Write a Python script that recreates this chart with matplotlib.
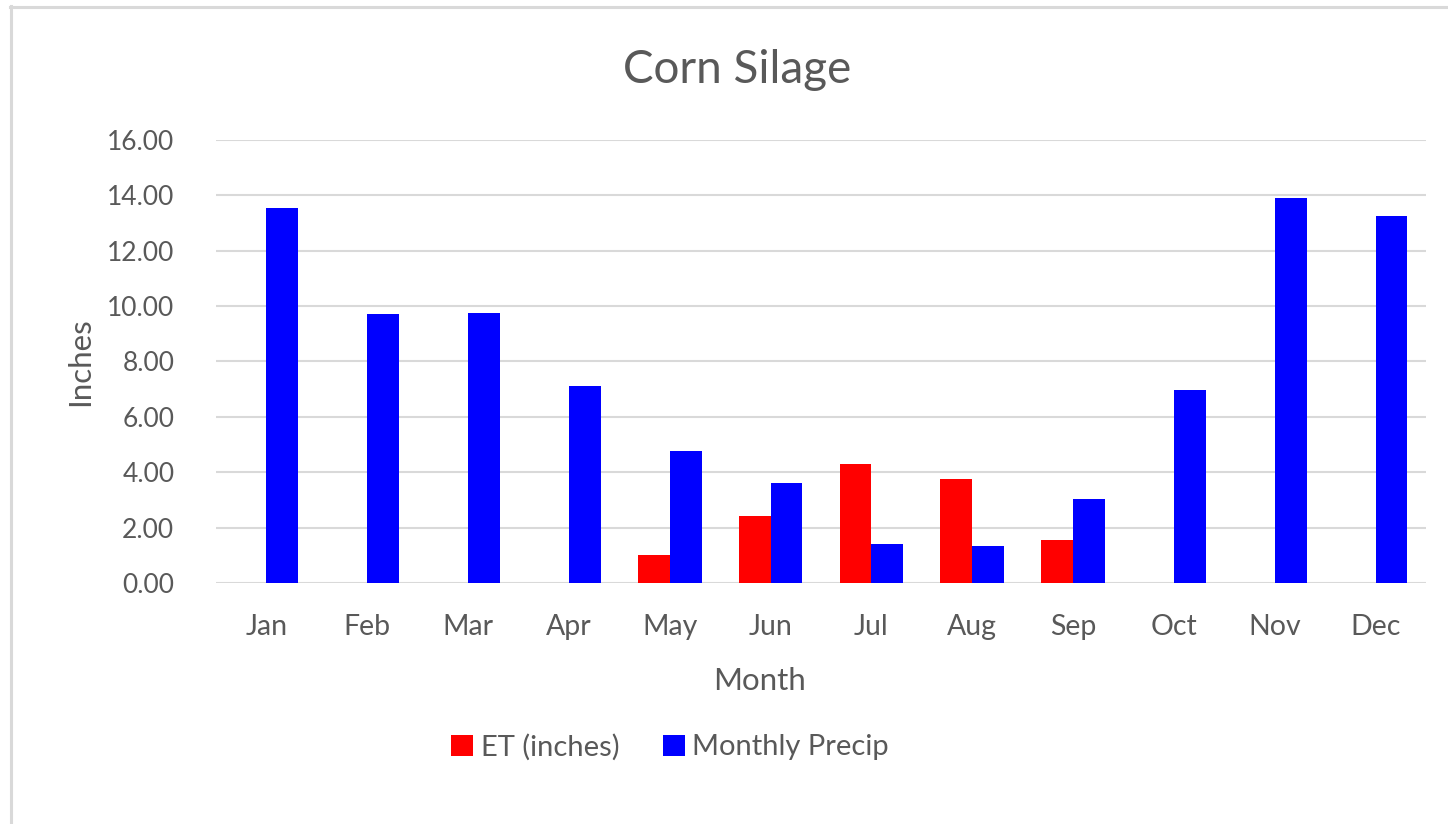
import matplotlib
matplotlib.use("Agg")
import matplotlib.pyplot as plt
from matplotlib.lines import Line2D
import numpy as np

months = ["Jan", "Feb", "Mar", "Apr", "May", "Jun", "Jul", "Aug", "Sep", "Oct", "Nov", "Dec"]
et_inches = [0, 0, 0, 0, 1.02, 2.41, 4.30, 3.74, 1.54, 0, 0, 0]
monthly_precip = [13.53, 9.73, 9.76, 7.11, 4.75, 3.61, 1.42, 1.34, 3.02, 6.96, 13.89, 13.25]
yticks = [0, 2, 4, 6, 8, 10, 12, 14, 16]

W, H = 1448, 824
plt.rcParams['font.family'] = ['Lato', 'DejaVu Sans']
txt = '#595959'
grid = '#d9d9d9'

fig = plt.figure(figsize=(W / 100, H / 100), dpi=100)
ax = fig.add_axes([216 / W, 1 - 583 / H, (1426 - 216) / W, (583 - 140) / H])

x = np.arange(len(months))
w = 0.315
ax.bar(x - w / 2, et_inches, width=w, color='#FF0000', linewidth=0, label='ET (inches)', zorder=3)
ax.bar(x + w / 2, monthly_precip, width=w, color='#0000FF', linewidth=0, label='Monthly Precip', zorder=3)

ax.set_xlim(-0.5, len(months) - 0.5)
ax.set_ylim(0, 16)
ax.set_yticks(yticks)
ax.set_yticklabels([f"{v:.2f}" for v in yticks], fontsize=19, color=txt)
ax.set_xticks(x)
ax.set_xticklabels(months, fontsize=20.5, color=txt)
ax.tick_params(axis='both', length=0)
ax.tick_params(axis='y', pad=30)
ax.tick_params(axis='x', pad=22)
for s in ax.spines.values():
    s.set_visible(False)
ax.yaxis.grid(True, color=grid, linewidth=1.5, zorder=0)
ax.set_axisbelow(True)

fig.text(737 / W, 1 - 83 / H, "Corn Silage", fontsize=33, color=txt, ha='center', va='baseline')
fig.text(760 / W, 1 - 681 / H, "Month", fontsize=22.5, color=txt, ha='center', va='center')
fig.text(80 / W, 1 - 362 / H, "Inches", fontsize=22.5, color=txt, ha='center', va='center', rotation=90)

fig.legend(loc='center', bbox_to_anchor=(670 / W, 1 - 747 / H), ncol=2, frameon=False,
           fontsize=21, labelcolor=txt, handlelength=0.75, handleheight=0.75,
           handletextpad=0.25, columnspacing=1.5)

fig.add_artist(Line2D([10.5 / W, 10.5 / W], [1 - 6 / H, 0], transform=fig.transFigure, color=grid, linewidth=2.2))
fig.add_artist(Line2D([10 / W, 1], [1 - 6.5 / H, 1 - 6.5 / H], transform=fig.transFigure, color=grid, linewidth=2.2))

fig.savefig("out.png", dpi=100)
